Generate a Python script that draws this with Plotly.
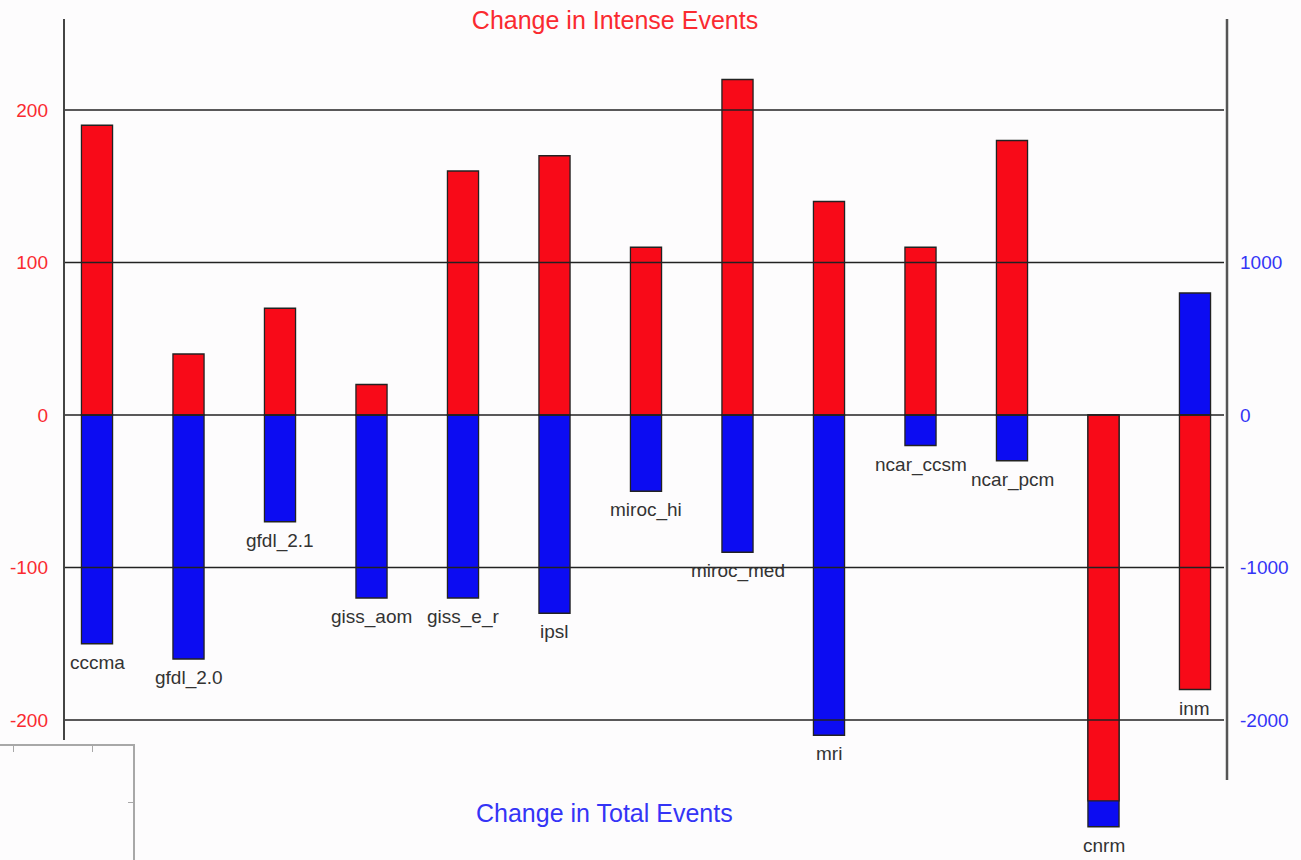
import plotly.graph_objects as go

# ---- data ----
models = ["cccma", "gfdl_2.0", "gfdl_2.1", "giss_aom", "giss_e_r", "ipsl", "miroc_hi",
          "miroc_med", "mri", "ncar_ccsm", "ncar_pcm", "cnrm", "inm"]
intense_change = [190, 40, 70, 20, 160, 170, 110, 220, 140, 110, 180, -253, -180]
total_change = [-1500, -1600, -700, -1200, -1200, -1300, -500, -900, -2100, -200, -300, -2700, 800]
left_ticks = [-200, -100, 0, 100, 200]
right_ticks = [-2000, -1000, 0, 1000]
left_tick_text = ["-200", "-100", "0", "100", "200"]
right_tick_text = ["-2000", "-1000", "0", "1000"]
title_top = "Change in Intense Events"
title_bottom = "Change in Total Events"

# ---- styling / geometry ----
W, H = 1301, 860
RED = "#f80a18"
BLUE = "#0c0cf2"
RED_TXT = "#fa2a30"
BLUE_TXT = "#3434f6"
FONT = "Liberation Sans, Arial, Helvetica, sans-serif"
BG = "#fdfcfd"


def px(x):
    return x / W


def py(y):
    return 1 - y / H


zero_px, px_per_unit = 415.0, 1.525
top_px, bot_px = 19.0, 840.0
red_range = [(zero_px - bot_px) / px_per_unit, (zero_px - top_px) / px_per_unit]
blue_range = [r * 10 for r in red_range]

fig = go.Figure()

fig.add_trace(go.Bar(
    x=models, y=total_change, yaxis="y", xaxis="x",
    marker=dict(color=BLUE, line=dict(color="#222", width=1.3)),
    width=0.34, showlegend=False, name="Total"))
fig.add_trace(go.Bar(
    x=models, y=intense_change, yaxis="y2", xaxis="x",
    marker=dict(color=RED, line=dict(color="#222", width=1.3)),
    width=0.34, showlegend=False, name="Intense"))

# dummy trace for the small inset frame at bottom-left
fig.add_trace(go.Scatter(x=[None], y=[None], xaxis="x3", yaxis="y3",
                         showlegend=False, hoverinfo="skip"))

shapes = []
for v in left_ticks:
    shapes.append(dict(type="line", xref="x domain", x0=0, x1=1, yref="y2", y0=v, y1=v,
                       line=dict(color="#222", width=1.6), layer="above"))
# axis spines
shapes.append(dict(type="line", xref="paper", yref="paper", x0=px(64), x1=px(64),
                   y0=py(740), y1=py(19), line=dict(color="#444", width=2), layer="above"))
shapes.append(dict(type="line", xref="paper", yref="paper", x0=px(1227), x1=px(1227),
                   y0=py(780), y1=py(19), line=dict(color="#555", width=2.5), layer="above"))

annotations = []
for m, r, t in zip(models, intense_change, total_change):
    low = min(0, r, t / 10)
    annotations.append(dict(x=m, y=low, xref="x", yref="y2", text=m, showarrow=False,
                            yanchor="top", yshift=-6,
                            font=dict(family=FONT, size=19, color="#333")))
annotations.append(dict(x=px(604), y=py(813), xref="paper", yref="paper", text=title_bottom,
                        showarrow=False, xanchor="center", yanchor="middle",
                        font=dict(family=FONT, size=25, color=BLUE_TXT)))

fig.update_layout(
    width=W, height=H,
    margin=dict(l=0, r=0, t=0, b=0),
    paper_bgcolor=BG, plot_bgcolor=BG,
    barmode="overlay",
    title=dict(text=title_top, x=px(615), y=py(20), xanchor="center", yanchor="middle",
               xref="paper", yref="paper", font=dict(family=FONT, size=25, color=RED_TXT)),
    xaxis=dict(type="category", domain=[px(64), px(1224)], range=[-0.3607, 12.317],
               visible=False, anchor="y"),
    yaxis=dict(domain=[py(bot_px), py(top_px)], range=blue_range, side="right",
               tickvals=right_ticks, ticktext=right_tick_text, ticks="", showgrid=False,
               zeroline=False, showline=False, ticklabelstandoff=15,
               tickfont=dict(family=FONT, size=19, color=BLUE_TXT), anchor="x"),
    yaxis2=dict(range=red_range, overlaying="y", side="left",
                tickvals=left_ticks, ticktext=left_tick_text, ticks="", showgrid=False,
                zeroline=False, showline=False, ticklabelstandoff=15,
                tickfont=dict(family=FONT, size=19, color=RED_TXT), anchor="x"),
    xaxis3=dict(domain=[0, px(133)], range=[0, 1], anchor="y3", side="top",
                showline=True, linecolor="#a8a8a8", linewidth=2, mirror=False,
                ticks="inside", ticklen=6, tickcolor="#a8a8a8",
                tickvals=[13 / 133, 92 / 133], showticklabels=False,
                showgrid=False, zeroline=False, fixedrange=True),
    yaxis3=dict(domain=[0, py(745.5)], range=[0, 1], anchor="x3", side="right",
                showline=True, linecolor="#a8a8a8", linewidth=2,
                ticks="inside", ticklen=5, tickcolor="#a8a8a8",
                tickvals=[0.504], showticklabels=False,
                showgrid=False, zeroline=False, fixedrange=True),
    shapes=shapes,
    annotations=annotations,
)

fig.write_html("out.html")
